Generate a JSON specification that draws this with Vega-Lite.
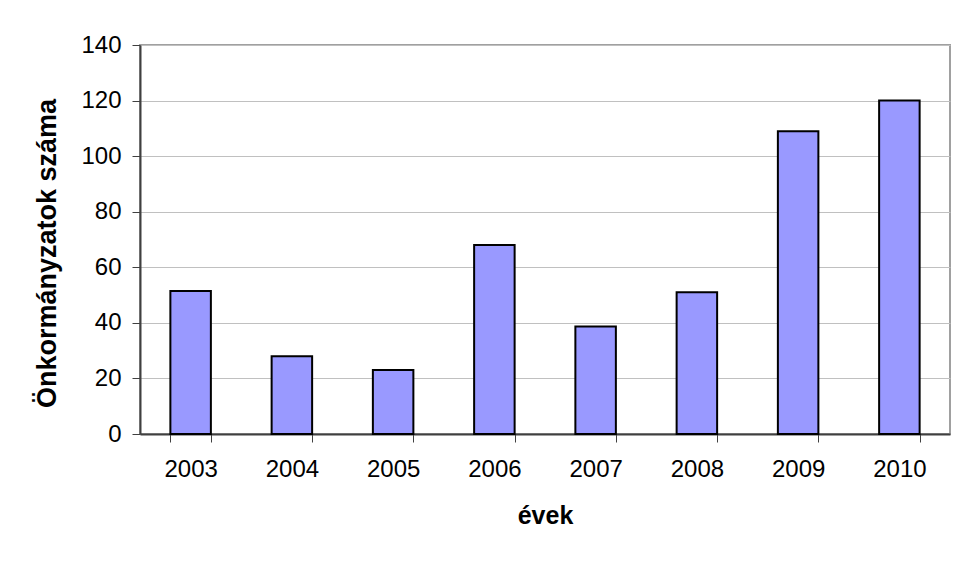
{
  "$schema": "https://vega.github.io/schema/vega-lite/v6.json",
  "width": 810,
  "height": 389,
  "autosize": {"type": "none"},
  "padding": {"left": 140, "top": 45, "right": 8, "bottom": 129},
  "background": "white",
  "config": {
    "font": "Liberation Sans",
    "view": {"stroke": "#a0a0a0", "strokeWidth": 2},
    "axis": {
      "labelFont": "Liberation Sans",
      "titleFont": "Liberation Sans",
      "labelColor": "black",
      "titleColor": "black",
      "domainColor": "#404040",
      "domainWidth": 2,
      "tickColor": "#404040",
      "tickWidth": 1,
      "tickSize": 8
    }
  },
  "data": {
    "values": [
      {"ev": "2003", "szam": 51.5},
      {"ev": "2004", "szam": 28},
      {"ev": "2005", "szam": 23},
      {"ev": "2006", "szam": 68},
      {"ev": "2007", "szam": 38.7},
      {"ev": "2008", "szam": 51},
      {"ev": "2009", "szam": 109},
      {"ev": "2010", "szam": 120}
    ]
  },
  "mark": {"type": "bar", "fill": "#9999ff", "stroke": "black", "strokeWidth": 2},
  "encoding": {
    "x": {
      "field": "ev",
      "type": "ordinal",
      "scale": {"paddingInner": 0.6, "paddingOuter": 0.3},
      "axis": {
        "title": "évek",
        "labelAngle": 0,
        "labelFontSize": 24,
        "labelBaseline": "alphabetic",
        "labelPadding": 34,
        "tickBand": "extent",
        "titleFontSize": 25,
        "titleFontWeight": "bold",
        "titleBaseline": "alphabetic",
        "titleY": 89,
        "titleX": 405,
        "titleAlign": "center"
      }
    },
    "y": {
      "field": "szam",
      "type": "quantitative",
      "scale": {"domain": [0, 140], "nice": false},
      "axis": {
        "title": "Önkormányzatok száma",
        "values": [0, 20, 40, 60, 80, 100, 120, 140],
        "labelFontSize": 24,
        "labelPadding": 11,
        "grid": true,
        "gridColor": "#c0c0c0",
        "gridWidth": 1,
        "titleFontSize": 27,
        "titleFontWeight": "bold",
        "titleAngle": -90,
        "titleBaseline": "middle",
        "titleAlign": "center",
        "titleX": -93,
        "titleY": 208
      }
    }
  }
}
